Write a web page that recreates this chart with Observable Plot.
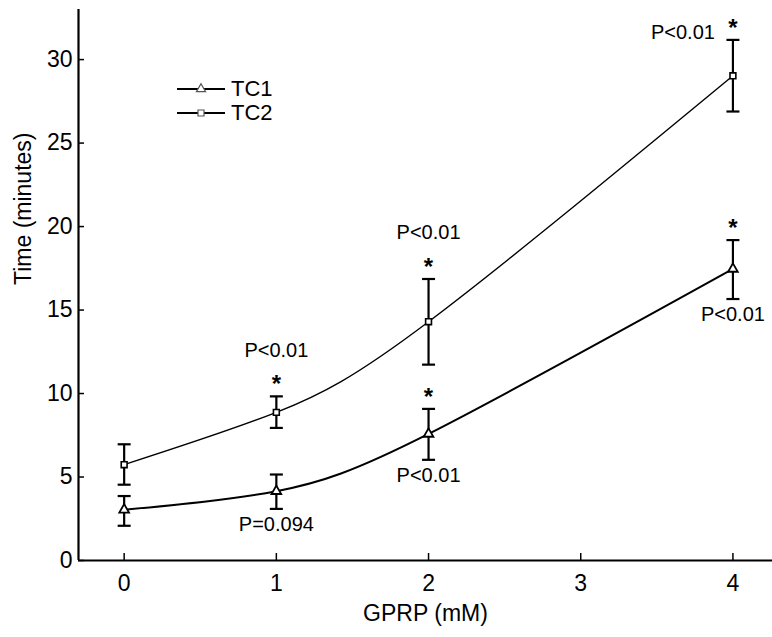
<!DOCTYPE html>
<html><head><meta charset="utf-8">
<script src="https://cdn.jsdelivr.net/npm/d3@7"></script>
<script src="https://cdn.jsdelivr.net/npm/@observablehq/plot@0.6"></script>
<style>
body{margin:0;background:#fff;}
#chart{position:relative;width:772px;height:637px;font-family:"Liberation Sans",Arial,Helvetica,sans-serif;}
#legend{position:absolute;left:177px;top:77px;font-size:22px;color:#000;}
#legend .row{display:flex;align-items:center;height:24px;}
#legend svg{display:block;margin-right:4px;}
</style></head><body><div id="chart"><div id="legend"></div></div>
<script>
// ---- data ----
const doses = [0, 1, 2, 4];
const seriesNames = ["TC1", "TC2"];
const tc1Mean = [3.04, 4.15, 7.58, 17.46];
const tc1Low  = [2.08, 3.09, 6.03, 15.66];
const tc1High = [3.86, 5.15, 9.08, 19.19];
const tc2Mean = [5.74, 8.87, 14.30, 29.03];
const tc2Low  = [4.54, 7.94, 11.73, 26.89];
const tc2High = [6.96, 9.83, 16.86, 31.18];
const xTicks = [0, 1, 2, 3, 4];
const yTicks = [0, 5, 10, 15, 20, 25, 30];
const starSeries = ["TC1", "TC1", "TC2", "TC2", "TC2"];
const starDoses  = [2, 4, 1, 2, 4];
const pSeries = ["TC1", "TC1", "TC1", "TC2", "TC2", "TC2"];
const pDoses  = [1, 2, 4, 1, 2, 4];
const pTexts  = ["P=0.094", "P<0.01", "P<0.01", "P<0.01", "P<0.01", "P<0.01"];
const pSides  = ["below", "below", "below", "above", "above", "left"];

const means = {TC1: tc1Mean, TC2: tc2Mean};
const lows = {TC1: tc1Low, TC2: tc2Low};
const highs = {TC1: tc1High, TC2: tc2High};
const rows = seriesNames.flatMap(s => doses.map((d, i) => ({series: s, dose: d, mean: means[s][i], low: lows[s][i], high: highs[s][i]})));
const find = (s, d) => rows.find(r => r.series === s && r.dose === d);
const stars = starSeries.map((s, i) => find(s, starDoses[i]));
const pRows = pSeries.map((s, i) => ({...find(s, pDoses[i]), text: pTexts[i], side: pSides[i]}));

const W = 772, H = 637;
const mL = 78, mR = 0, mT = 9, mB = 77;
const plotW = W - mL - mR, plotH = H - mT - mB;
const cap = {draw(ctx) { ctx.moveTo(-6.5, 0); ctx.lineTo(6.5, 0); }};

const chart = Plot.plot({
  width: W, height: H,
  marginLeft: mL, marginRight: mR, marginTop: mT, marginBottom: mB,
  style: {fontFamily: '"Liberation Sans", Arial, Helvetica, sans-serif', fontSize: "23px", color: "#000", background: "#fff", overflow: "visible"},
  x: {domain: [-0.3, 4.26], ticks: xTicks},
  y: {domain: [0, 33], ticks: yTicks},
  marks: [
    Plot.axisX({ticks: xTicks, tickSize: 0, tickPadding: 14, tickFormat: d3.format("d"), label: null}),
    Plot.axisY({ticks: yTicks, tickSize: 0, tickPadding: 6, tickFormat: d3.format("d"), label: null}),
    Plot.tickX(xTicks, {x: d => d, insetTop: plotH - 7, stroke: "#000", strokeWidth: 1.5}),
    Plot.tickY(yTicks, {y: d => d, insetRight: plotW - 6, stroke: "#000", strokeWidth: 1.5}),
    Plot.ruleY([0], {stroke: "#000", strokeWidth: 2.2}),
    Plot.ruleX([-0.3], {stroke: "#000", strokeWidth: 2.2}),
    Plot.text(["GPRP (mM)"], {frameAnchor: "bottom", dy: 53, lineAnchor: "middle"}),
    Plot.text(["Time (minutes)"], {frameAnchor: "left", dx: -55, rotate: -90, lineAnchor: "middle"}),
    Plot.line(rows.filter(r => r.series === "TC1"), {x: "dose", y: "mean", curve: "natural", stroke: "#000", strokeWidth: 2}),
    Plot.line(rows.filter(r => r.series === "TC2"), {x: "dose", y: "mean", curve: "natural", stroke: "#000", strokeWidth: 1.4}),
    Plot.ruleX(rows, {x: "dose", y1: "low", y2: "high", stroke: "#000", strokeWidth: 2.2}),
    Plot.dot(rows, {x: "dose", y: "low", symbol: () => cap, stroke: "#000", strokeWidth: 2.2}),
    Plot.dot(rows, {x: "dose", y: "high", symbol: () => cap, stroke: "#000", strokeWidth: 2.2}),
    Plot.dot(rows.filter(r => r.series === "TC1"), {x: "dose", y: "mean", symbol: "triangle", r: 3.6, fill: "#fff", stroke: "#000", strokeWidth: 1.8}),
    Plot.dot(rows.filter(r => r.series === "TC2"), {x: "dose", y: "mean", symbol: "square", r: 3.3, fill: "#fff", stroke: "#000", strokeWidth: 1.6}),
    Plot.text(stars, {x: "dose", y: "high", text: () => "*", dy: -12, fontSize: 24, fontWeight: "bold", lineAnchor: "middle"}),
    Plot.text(pRows.filter(r => r.side === "above"), {x: "dose", y: "high", text: "text", dy: -46, fontSize: 20, lineAnchor: "middle"}),
    Plot.text(pRows.filter(r => r.side === "below"), {x: "dose", y: "low", text: "text", dy: 16, fontSize: 20, lineAnchor: "middle"}),
    Plot.text(pRows.filter(r => r.side === "left"), {x: "dose", y: "high", text: "text", dy: -7, dx: -18, textAnchor: "end", fontSize: 20, lineAnchor: "middle"})
  ]
});
document.getElementById("chart").prepend(chart);

// legend
const legend = d3.select("#legend");
for (const s of seriesNames) {
  const row = legend.append("div").attr("class", "row");
  const svg = row.append("svg").attr("width", 50).attr("height", 24);
  svg.append("line").attr("x1", 0).attr("x2", 48).attr("y1", 12).attr("y2", 12).attr("stroke", "#000").attr("stroke-width", 2);
  svg.append("path").attr("transform", "translate(24,12)")
    .attr("d", d3.symbol(s === "TC1" ? d3.symbolTriangle : d3.symbolSquare, 36)())
    .attr("fill", "#fff").attr("stroke", "#555").attr("stroke-width", 1.2);
  row.append("span").text(s);
}
</script>
</body></html>
